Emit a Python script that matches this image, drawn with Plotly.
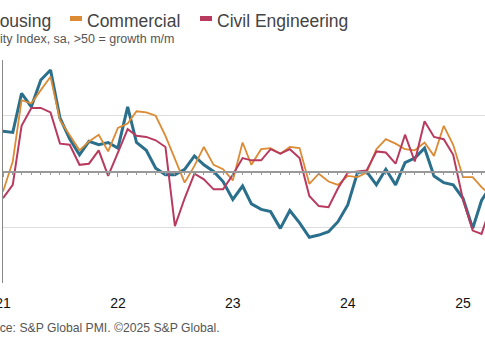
import pandas as pd
import plotly.graph_objects as go

months = pd.date_range("2021-01-01", periods=52, freq="MS")

housing = [53.6, 53.5, 57.0, 55.8, 58.2, 59.1, 54.8, 52.9, 51.5, 52.7, 52.4, 52.6, 52.1,
           55.8, 52.6, 51.9, 50.3, 49.7, 49.7, 50.2, 51.4, 50.6, 50.0, 49.1, 47.5, 48.7,
           47.1, 46.6, 46.4, 44.9, 46.5, 45.4, 44.1, 44.3, 44.6, 45.5, 47.0, 49.9, 50.0,
           48.8, 50.2, 48.8, 50.8, 51.2, 52.1, 49.6, 49.0, 48.8, 47.6, 44.9, 47.4, 48.8]
commercial = [48.2, 50.9, 56.4, 56.1, 57.3, 58.5, 54.6, 53.2, 51.9, 52.7, 53.3, 51.8, 53.9,
              54.3, 55.4, 55.3, 55.0, 53.2, 51.2, 49.0, 50.5, 52.2, 50.6, 50.2, 49.2, 52.6,
              50.6, 52.0, 52.1, 51.6, 52.2, 52.1, 48.9, 49.8, 49.1, 48.8, 49.6, 49.5, 49.9,
              52.0, 52.9, 52.5, 52.0, 51.9, 52.6, 51.4, 54.1, 52.4, 49.5, 49.5, 48.6, 47.8]
civil = [47.6, 48.8, 54.1, 55.7, 55.7, 55.3, 52.5, 52.4, 50.6, 50.7, 51.9, 49.6, 51.7,
         53.8, 53.2, 53.1, 52.8, 52.2, 45.1, 47.6, 49.8, 49.3, 48.4, 48.4, 49.7, 51.2,
         51.0, 51.0, 52.0, 51.6, 52.0, 51.2, 47.8, 46.9, 46.8, 48.5, 49.9, 50.0, 50.1,
         51.8, 51.7, 50.7, 53.3, 50.9, 54.5, 53.1, 52.9, 51.5, 47.5, 44.7, 44.4, 47.0]

series_names = ["Housing", "Commercial", "Civil Engineering"]
series_colors = ["#2a6f8b", "#dc8a33", "#b83a5f"]
series_widths = [3, 1.8, 2]

year_ticks = ["2021-01-01", "2022-01-01", "2023-01-01", "2024-01-01", "2025-01-01"]
year_labels = ["21", "22", "23", "24", "25"]

W, H = 485, 360
ML, MR, MT, MB = 3, 0, 60, 77
PW, PH = W - ML - MR, H - MT - MB

def px(x):
    return (x - ML) / PW

def py(y):
    return (H - MB - y) / PH

fig = go.Figure()
for name, vals, col, lw in zip(series_names, [housing, commercial, civil], series_colors, series_widths):
    fig.add_trace(go.Scatter(x=months, y=vals, mode="lines", name=name,
                             line=dict(color=col, width=lw), showlegend=False))
# helper trace to render the zero-crossing month axis
fig.add_trace(go.Scatter(x=[months[0]], y=[None], xaxis="x2", mode="lines",
                         showlegend=False, hoverinfo="skip"))

font_main = "Liberation Sans, Arial, sans-serif"

fig.update_layout(
    width=W, height=H,
    margin=dict(l=ML, r=MR, t=MT, b=MB, autoexpand=False),
    paper_bgcolor="white", plot_bgcolor="white",
    font=dict(family=font_main, color="#333"),
    xaxis=dict(type="date", range=["2021-01-01", "2025-03-12"], automargin=False,
               tickvals=year_ticks, ticktext=year_labels,
               ticks="outside", ticklen=7, tickcolor="rgba(0,0,0,0)",
               ticklabeloverflow="allow",
               showgrid=False, zeroline=False, showline=False,
               tickfont=dict(size=14, color="#111")),
    xaxis2=dict(type="date", overlaying="x", matches="x", anchor="free", position=0.5,
                automargin=False,
                showline=True, linecolor="#999", linewidth=1.5,
                ticks="outside", ticklen=5, tickcolor="#999", tickwidth=1,
                dtick="M12", tick0="2021-01-01",
                minor=dict(ticks="outside", ticklen=3, tickcolor="#999", dtick="M1"),
                showticklabels=False, showgrid=False, zeroline=False),
    yaxis=dict(range=[40, 60], tickvals=[40, 45, 50, 55, 60], showticklabels=False,
               automargin=False,
               showgrid=True, gridcolor="#dddddd", gridwidth=1, zeroline=False,
               showline=True, linecolor="#888", linewidth=1, ticks=""),
)

# legend row (drawn as annotations + swatches; left part falls off the canvas)
legend_items = [
    ("Housing", series_colors[0], -30, -18, 52, "right"),
    ("Commercial", series_colors[1], 70, 82, 86, "left"),
    ("Civil Engineering", series_colors[2], 200, 212, 216, "left"),
]
for label, col, sx0, sx1, tx, anchor in legend_items:
    fig.add_shape(type="rect", xref="paper", yref="paper",
                  x0=px(sx0), x1=px(sx1), y0=py(21), y1=py(16),
                  fillcolor=col, line=dict(width=0))
    fig.add_annotation(text=label, xref="paper", yref="paper", x=px(tx), y=py(21),
                       xanchor=anchor, yanchor="middle", showarrow=False, borderpad=0,
                       font=dict(size=17.5, color="#444", family=font_main))

fig.add_annotation(text="Activity Index, sa, >50 = growth m/m", xref="paper", yref="paper",
                   x=px(176), y=py(39), xanchor="right", yanchor="middle", showarrow=False,
                   font=dict(size=12.5, color="#555", family=font_main))
fig.add_annotation(text="Source: S&P Global PMI. ©2025 S&P Global.", xref="paper", yref="paper",
                   x=px(222), y=py(328), xanchor="right", yanchor="middle", showarrow=False,
                   font=dict(size=12.2, color="#555", family=font_main))

fig.write_html("out.html", config={"displayModeBar": False},
               post_script="document.body.style.margin='0';")
